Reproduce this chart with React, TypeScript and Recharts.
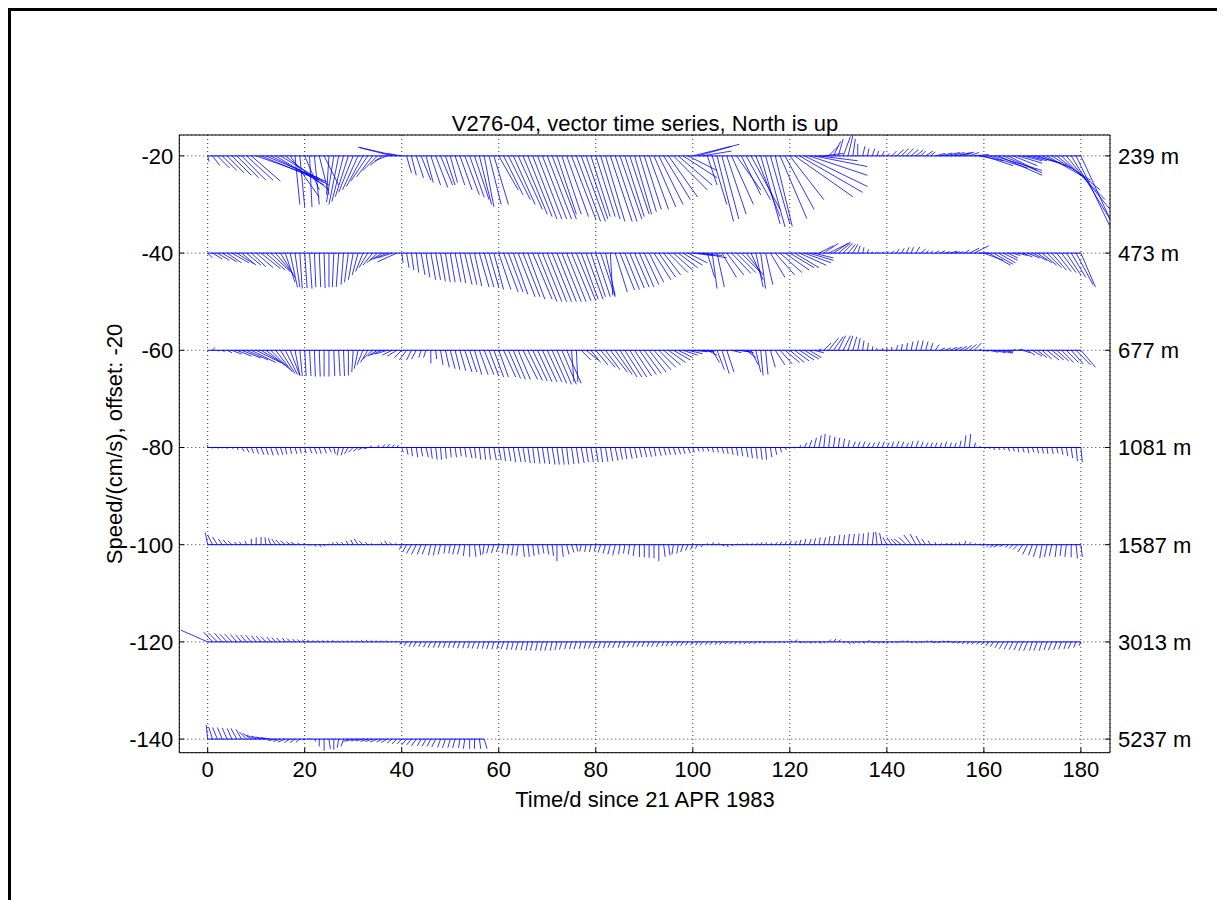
import React from "react";
import { LineChart, Line, XAxis, YAxis, CartesianGrid } from "recharts";

// depth labels and the offset each record is drawn at
const depths = ["239 m", "473 m", "677 m", "1081 m", "1587 m", "3013 m", "5237 m"];
const offsets = [-20, -40, -60, -80, -100, -120, -140];
const xTicks = [0, 20, 40, 60, 80, 100, 120, 140, 160, 180];
const yTicks = [-140, -120, -100, -80, -60, -40, -20];

// daily east (u) / north (v) components, cm/s, from day 0
const u239 = [
  0.3, 1.5, 2.5, 3, 3.5, 4, 4.5, 5, 5.5, 6,
  13, 12, 12.5, 11, 10, 10, 9, 6, 1, 1,
  3, 0.5, 1, 2, 3, -0.5, -1.5, -2, -2.4, -2.7,
  -3, -3.2, -3.4, -3.5, -3.3, -3, -2.5, -2.5, -6.6, -8,
  -3, 1, 1, 1.5, 2, 1.5, 2, 2.5, 2.5, 2,
  1.5, 2, 2.5, 3, 3, 3, 2.5, 2, 2.5, 3,
  4, 4, 4.5, 4.5, 5, 5, 5, 5, 5, 5,
  5, 5, 4, 4, 4.5, 5, 5, 5, 4.5, 4,
  4, 4, 4, 4.5, 4.5, 4.5, 4, 4, 3.5, 3.5,
  3.5, 4, 4.5, 5, 5.5, 6, 7, 7, 7, 6,
  8, 8.6, 6, 2, 3, 3.4, 3.5, 4, 4.5, 5,
  4, 5, 6, 5, 4, 4, 4, 3.5, 5.5, 6,
  7, 12, 13, 13, 12, 11, 8, 4, 2, 1.5,
  1, 1.5, 1, 0.5, 0, 0.5, 0.3, 0.5, 0.3, 0.5,
  0.5, 1, 1.5, 1.5, 1.5, 1.5, 1.5, 1, 1.5, 1,
  2, 2.5, 3, 3, 3, 2.5, 2, 2, 3, 5,
  6, 8, 10, 9, 8, 6, 5, 5, 4, 4,
  6, 6, 6, 7, 8, 9, 9, 9, 8, 7, 6,
];
const v239 = [
  -1.2, -2, -2.5, -3, -3.5, -4, -4.5, -5, -5, -5.2,
  -4.6, -5, -5.3, -5.5, -6, -6, -7, -8.5, -10, -10.5,
  -7, -10.5, -10, -8, -6, -8, -9.5, -10, -9.4, -8.4,
  -7.5, -7, -6.3, -5.2, -4.3, -3, -1.9, -1, 1.7, 1.8,
  0.5, -3.5, -4, -4.5, -5, -5.5, -6, -6.5, -6, -6,
  -5.5, -6, -7, -8, -8.5, -9, -10, -10.5, -10, -10,
  -7, -8, -9, -10, -11, -12, -12.5, -13, -13, -13,
  -13, -13, -12, -12, -12.5, -13, -13.5, -13.5, -13, -12.5,
  -12.5, -13, -13.5, -13.5, -13.5, -13, -12.5, -12, -12, -11.5,
  -11, -11, -10.5, -10, -9, -8.5, -7, -6, -4.5, -3,
  2, 2.4, 1, -6, -10, -13.5, -13, -12, -10, -7,
  -8, -9, -11, -12.5, -14, -14.6, -14, -14.5, -12.9, -11,
  -9, -8.4, -7.5, -6.3, -4, -2.2, -1, 0.5, 2, 3,
  3.5, 4, 4.2, 3.5, 2.5, 2, 1.5, 1.5, 1, 1,
  0.5, 1, 1.3, 1.5, 1.5, 1.3, 1.2, 1, 1, 0.8,
  0.5, 0.6, 0.7, 0.7, 0.6, 0.7, 0.8, 0.7, 0.3, -1,
  -2, -2.5, -3, -4, -3.5, -3, -2, -1.5, -1, -1,
  -1.5, -2, -2.5, -4, -5, -7, -9, -11, -13, -14.5, -13,
];

const u473 = [
  1, 2, 2.5, 3, 3, 3.5, 3.5, 3, 3, 3,
  3.5, 4, 4, 4, 3.5, 3, 2, 1.5, 1, 0.5,
  0.5, 0.5, 0.3, 0.3, 0.2, 0, -0.3, -0.5, -0.5, -0.8,
  -1, -1.2, -1.5, -1.8, -2, -2.2, -2.5, -2.8, -3, -4,
  0.3, 0.5, 0.5, 0.5, 0.8, 0.8, 1, 1, 1, 1,
  1, 1.2, 1.2, 1.5, 1.5, 1.5, 2, 2, 2, 2,
  2.5, 3, 3, 3, 3.5, 3.5, 3.5, 4, 4, 4,
  4, 4, 4, 4, 4, 4, 4, 3.5, 3.5, 3,
  3, 3, 2, 0.5, 2.5, 3, 3, 3, 3, 3,
  3, 3, 3.5, 3.5, 3.5, 4, 4, 4, 4, 4,
  4, 5, 5, 1.5, 1, 1.5, 3, 3.5, 4, 4,
  4, 3.5, 2.5, 1.5, 1, 1.5, 3, 4, 4.5, 5,
  5, 5, 5.5, 5.5, 5, 4, 3, 3, 4.5, 3,
  2.5, 2, 1.5, 1, 0.5, 0.3, 0.2, 0, 0.2, 0.3,
  0.3, 0.5, 0.5, 0.6, 0.6, 0.5, 0.8, 1, 0.6, 0.5,
  0.8, 1, 1, 1.5, 1, 0.8, 1, 2, 3, 2,
  4, 4.5, 4, 3.5, 3, 2, 1.5, 2, 2, 2.5,
  3, 3, 3, 3, 3, 3, 3, 3, 3, 3.5, 3,
];
const v473 = [
  -1, -1.2, -1.5, -1.8, -2, -2, -2.2, -2.5, -2.5, -2.8,
  -3, -3.2, -3.5, -3.8, -4.2, -5, -6, -7, -7, -7.3,
  -7.2, -7.3, -7, -7, -7.2, -7, -7, -7, -6.5, -6,
  -5.5, -4.5, -3.8, -3, -2.5, -2, -1.5, -1.2, -1, -1.8,
  -2, -3, -3.5, -4, -4.5, -5, -5.5, -5.5, -5.8, -6,
  -6, -6, -6.2, -6.5, -6.5, -6.8, -7, -7, -7, -7.5,
  -7.5, -8, -8, -8.5, -9, -9, -9.5, -9.5, -10, -10,
  -10, -10, -10, -10, -10, -9.8, -9.8, -9.5, -9.5, -9,
  -9, -9, -8.7, -8.7, -8, -7.6, -7.5, -7.2, -7, -7,
  -6.5, -6, -5.5, -5, -4.5, -4, -3.5, -3, -2.5, -2,
  -0.5, -0.5, -1, -5, -7.3, -7, -5, -4.5, -4.2, -4,
  -4, -4.5, -5.5, -7, -7.3, -6.5, -5, -4.5, -4, -3.5,
  -3, -3, -2.5, -2, -1.5, -1, 1.5, 2, 2.2, 2,
  2, 2, 1.8, 1.8, 1.5, 1.2, 0.8, 0.3, 0.3, 0.3,
  0.3, 0.5, 0.8, 1, 1.2, 1.2, 1.3, 0.8, 0.5, 0.5,
  0.5, 0.5, 0.3, 0.4, 0.3, 0.3, 0.6, 1, 1.5, 0,
  -1.5, -2.5, -2.3, -2, -1.5, -1, -0.5, -0.5, -0.8, -1,
  -1.5, -2, -2.5, -3, -3.5, -3.8, -4, -4.5, -5, -6.5, -7,
];

const u677 = [
  0, 0.5, 0.3, 0.5, 1, 2, 3, 4, 4.5, 5,
  5, 5, 4.5, 4, 3.5, 3, 2.5, 2, 1, 0.5,
  0.3, 0.3, 0.2, 0.2, 0, 0, 0.2, 0.3, 0.2, 0,
  -0.3, -0.8, -1.2, -1.5, -2, -2, -2.5, -2.5, -2, -2,
  -1.5, -1.5, -1, -1, -0.5, -0.5, 0, 0.2, 0.5, 0.8,
  1, 1, 1.2, 1.5, 1.5, 1.5, 1.8, 2, 2, 2,
  2, 2.5, 2.5, 2.5, 2.5, 3, 3, 3, 3, 3,
  3, 3, 3, 3, 3, 0.5, 0.3, 2, 2.5, 2,
  2.5, 3, 3, 3.5, 3.5, 3.5, 3.5, 3.5, 3.5, 3.5,
  3.5, 3.5, 3.5, 3.5, 3.5, 3.5, 3.5, 3, 3, 3,
  3, 3, 2.5, 2, 1.5, 1.5, 1.5, 1.5, 2, 3,
  2.5, 2, 1.5, 1, 0.5, 0.5, 1, 2, 2.5, 3,
  3, 3, 3, 3, 2.5, 2, 0.5, 1.5, 2, 2,
  1.5, 1.5, 1, 0.8, 0.5, 0.3, 0.2, 0.1, -0.1, 0.2,
  0, 0, 0.2, 0.2, 0.3, 0.4, 0.5, 0.5, 0.5, 0.5,
  0.8, 1, 1.2, 1.5, 1.5, 1.5, 1.5, 1.5, 1.5, 0.5,
  1, 2, 2.5, 3, 2, 1, 0.5, 1, 1.5, 1.5,
  2, 2, 2, 2.5, 2.5, 2.5, 2.5, 2.5, 2.5, 3, 3,
];
const v677 = [
  0, 0.6, -0.2, -0.3, -0.5, -0.8, -1.2, -1.6, -2, -2.5,
  -2.5, -3, -3.5, -4, -4.5, -4.8, -5, -5.2, -5.2, -5.3,
  -5.3, -5.3, -5.4, -5.4, -5.4, -5.4, -5.3, -5.3, -5.3, -5.2,
  -4.5, -3.8, -3, -2.5, -1.8, -1.2, -1, -0.8, -1, -1.2,
  -1.5, -2, -2, -1.8, -1.5, -1.5, -2.7, -1.8, -3, -3.5,
  -3.8, -4, -4.2, -4.5, -4.5, -5, -5, -5, -5.3, -5.5,
  -5.5, -5.5, -5.8, -6, -6, -6, -6.2, -6.3, -6.5, -6.5,
  -6.5, -6.8, -7, -7, -6.8, -6.5, -6.5, -2, -2, -2.5,
  -3, -3.5, -4, -4.5, -5, -5.5, -5.5, -5.5, -5.3, -5,
  -4.8, -4.5, -4, -3.5, -3, -2.5, -2, -1.5, -1, -0.7,
  -0.3, -0.2, -0.3, -1, -2.5, -4, -4.8, -4.5, -0.5, -0.3,
  -0.5, -1.5, -3, -4.5, -5.2, -5, -3.5, -3, -2.8, -2.5,
  -2.5, -2.2, -2, -1.8, -1.5, -0.5, 0.3, 1.5, 2.5, 2.8,
  3, 3, 3, 2.8, 2.5, 2, 1.5, 0.8, 0.5, 0.5,
  0.5, 0.7, 1, 1.3, 1.5, 1.8, 2, 2, 1.8, 1.5,
  1.2, 0.5, 0.5, 0.6, 0.7, 0.8, 1, 1.2, 1.5, 0.2,
  -0.2, -0.4, -0.5, -0.6, -0.4, -0.2, 0.2, 0.2, -0.5, -1,
  -1.2, -1.5, -1.8, -2, -2, -2.2, -2.5, -2.5, -2.8, -3, -3.5,
];

const u1081 = [
  0, 0, 0.3, 0, 0, 0.3, 0.3, 0.5, 0.5, 0.5,
  0.5, 0.6, 0.5, 0.5, 0.6, 0.5, 0.3, 0.3, 0.4, 0.3,
  0.3, 0.5, 0.5, 0.4, 0.5, 0.5, 0.3, -0.3, -0.5, -0.8,
  -1, -1, -1, -0.8, -0.5, 0.3, 0.5, 0.5, 0.5, 0.3,
  0.3, 0.3, 0.2, 0.3, 0.3, 0.5, 0.3, 0.3, 0.2, 0.2,
  0.2, 0.3, 0.3, 0.3, 0.5, 0.3, 0.3, 0.3, 0.3, 0.5,
  0.5, 0.4, 0.5, 0.5, 0.6, 0.5, 0.5, 0.4, 0.5, 0.5,
  0.5, 0.6, 0.5, 0.5, 0.4, 0.5, 0.5, 0.6, 0.5, 0.5,
  0.5, 0.4, 0.5, 0.5, 0.6, 0.5, 0.4, 0.5, 0.5, 0.5,
  0.5, 0.5, 0.4, 0.5, 0.5, 0.4, 0.5, 0.5, 0.4, 0.5,
  0.3, 0.3, 0.2, 0.3, 0.3, 0.3, 0.4, 0.3, 0.3, 0.3,
  0.3, 0.4, 0.3, 0.3, 0.3, 0.2, 0.3, 0.3, 0.3, 0.3,
  0, 0, 0.3, 0.5, 0.5, 0.5, 0.5, 0.3, 0.3, 0.3,
  0.3, 0.3, 0.3, 0.5, 0.5, 0.5, 0.5, 0.5, 0.5, 0.5,
  0.5, 0.4, 0.5, 0.5, 0.5, 0.4, 0.5, 0.5, 0.5, 0.4,
  0.3, 0.3, 0.3, 0.3, 0.3, 0.3, 0.3, 0.3, 0.3, 0.3,
  0.3, 0.3, 0.2, 0.3, 0.3, 0.3, 0.3, 0.2, 0.3, 0.3,
  0.3, 0.3, 0.3, 0.2, 0.3, 0.3, 0.3, 0.3, 0.3, 0.3, 0.3,
];
const v1081 = [
  0.5, -0.2, -0.2, -0.2, -0.3, -0.3, -0.5, -0.8, -1, -1.2,
  -1.3, -1.5, -1.5, -1.6, -1.6, -1.5, -1.4, -1.3, -1.3, -1.2,
  -1.2, -1.2, -1.3, -1.3, -1.2, -1, -1.3, -1.6, -1.6, -1.3,
  -1, -0.8, -0.5, -0.3, 0.3, 0.5, 0.6, 0.7, 0.6, 0.5,
  -1, -1.5, -1.8, -2, -1.8, -2, -2.3, -2.5, -2.5, -2.3,
  -2, -2, -1.8, -2, -2.2, -2.2, -2.5, -2.5, -2.5, -2.6,
  -2.6, -2.8, -2.8, -3, -3, -3, -3.2, -3.2, -3.3, -3.3,
  -3.4, -3.5, -3.5, -3.5, -3.5, -3.4, -3.3, -3.2, -3, -3,
  -3, -3, -2.9, -2.8, -2.7, -2.5, -2.4, -2.3, -2.2, -2,
  -2, -1.9, -1.8, -1.7, -1.6, -1.5, -1.5, -1.4, -1.3, -1.2,
  -1, -0.8, -0.8, -0.8, -1, -1, -1.2, -1.3, -1.5, -1.7,
  -1.8, -2, -2.2, -2.3, -2.5, -2.5, -2, -1.5, -1, -0.5,
  -0.3, -0.2, 0.5, 1, 1.5, 2, 2.5, 2.8, 2.5, 2.2,
  2, 1.8, 1.5, 1.2, 1.2, 1.2, 1, 1, 1.2, 1.2,
  1, 1.2, 1.3, 1.2, 1, 1.3, 1.4, 1.2, 1, 1,
  1, 1, 1.2, 1, 1, 1.4, 2.5, 2.8, 1, 0.3,
  -0.3, -0.3, -0.5, -0.5, -0.5, -0.8, -0.8, -1, -1, -1.2,
  -1, -1.2, -1.2, -1.3, -1.3, -1.2, -1.5, -1.8, -2.2, -2.8, -3,
];

const u1587 = [
  -0.5, -1, -1, -0.8, -0.8, -0.8, -0.5, -0.5, -0.3, 0,
  0, 0, -0.2, -0.5, -0.8, -1, -1, -0.8, -0.8, -0.5,
  -0.3, 0, 0.3, 0.5, 0.2, 0, -0.3, -0.5, -0.5, -0.5,
  -0.5, -0.8, -0.8, -0.5, -0.3, 0, -0.3, -0.5, -0.5, -0.3,
  -0.5, -0.8, -1, -1, -0.8, -0.8, -0.5, -0.5, -0.5, -0.3,
  -0.3, -0.5, -0.5, -0.3, 0, 0.3, 0.3, -0.3, -0.5, -0.5,
  -0.5, -0.3, -0.3, -0.3, -0.3, 0.3, 0.3, 0.3, 0.3, 0.3,
  0.3, 0.3, 0, 0.3, 0.5, 0.5, 0.3, -0.3, -0.3, -0.3,
  -0.3, -0.5, -0.5, -0.5, -0.5, -0.3, -0.3, -0.3, -0.3, 0,
  0, 0, 0, 0, 0.3, 0.3, -0.3, -0.3, -0.5, -0.5,
  -0.5, -0.5, -0.3, 0, 0.3, 0.5, 0.5, 0.3, 0.3, 0.3,
  0.3, 0.2, 0.3, 0.4, 0.3, 0.2, 0.3, 0.4, 0.3, 0.3,
  0.3, 0.4, 0.3, 0.3, 0.4, 0.3, 0.3, 0.4, 0.3, 0.3,
  0.3, 0.3, 0.3, 0.3, 0.3, 0.2, 0.2, 0.3, -0.3, -0.5,
  -0.8, -1, -1.2, -1.5, -1.5, -1.5, -1.2, -1, -0.8, -0.5,
  0, 0.3, 0.5, 0.5, 0.3, 0, 0.3, 0.3, 0.3, 0.3,
  -0.3, -0.5, -0.8, -1, -0.8, -0.5, -0.8, -1, -1, -1,
  -0.8, -0.8, -0.5, -0.5, -0.5, -0.3, -0.3, -0.3, 0, 0.3, 0.3,
];
const v1587 = [
  2.5, 2, 1.6, 1.2, 1, 0.8, 0.6, 0.6, 0.8, 1.2,
  1.5, 1.6, 1.5, 1.3, 1.2, 1, 0.8, 0.6, 0.5, 0.4,
  0.2, -0.2, -0.4, -0.5, -0.3, 0.2, 0.5, 0.6, 0.5, 0.8,
  1, 1.2, 0.8, 0.5, 0.3, 0.2, 0.5, 0.8, 0.5, 0.3,
  -1, -1.5, -1.8, -2, -2, -2, -2.2, -2.2, -2, -1.8,
  -1.8, -2, -2, -2.3, -2.5, -2.5, -2.2, -2, -1.8, -1.7,
  -1.5, -1.8, -2, -2.2, -2.3, -2.5, -2.5, -2.3, -2, -1.8,
  -2, -2.3, -3.4, -2.5, -2, -1.6, -1.4, -1.4, -1.5, -1.5,
  -1.4, -1.6, -1.8, -2, -2.2, -2, -1.8, -2, -2.3, -2.5,
  -2.6, -2.7, -2.8, -3.4, -2.5, -2.2, -2, -1.8, -1.5, -1.2,
  -1, -0.8, -0.5, 0.3, 0.5, 0.3, -0.3, -0.5, -0.3, 0.2,
  0.2, 0.3, 0.3, 0.4, 0.5, 0.5, 0.4, 0.5, 0.6, 0.7,
  0.8, 0.8, 1, 1.2, 1.2, 1.3, 1.5, 1.5, 1.8, 1.8,
  2, 2, 2.2, 2.2, 2.3, 2.3, 2.5, 2.6, 2.6, 2.4,
  1.5, 1.5, 1.2, 1.2, 1.5, 2, 2.2, 1.8, 1.2, 0.8,
  0.5, 0.3, 0.3, 0.3, 0.3, 0.5, 0.8, 0.5, 0.3, 0.2,
  -0.3, -0.5, -0.6, -0.5, -0.4, -0.6, -0.8, -1, -1.5, -2,
  -2.2, -2.5, -2.8, -2.5, -2.3, -2.5, -2.3, -2.5, -2.6, -2.8, -2.5,
];

const u3013 = [
  -5.5, -1.8, -1.8, -1.6, -1.5, -1.5, -1.3, -1.3, -1.2, -1.2,
  -1, -1, -1, -0.8, -0.8, -0.8, -0.6, -0.6, -0.5, -0.5,
  -0.5, -0.5, -0.4, -0.4, -0.4, -0.3, -0.3, -0.3, -0.3, -0.3,
  -0.3, -0.3, -0.4, -0.4, -0.4, -0.3, -0.3, -0.2, -0.2, -0.2,
  -0.4, -0.5, -0.5, -0.6, -0.5, -0.5, -0.6, -0.5, -0.5, -0.4,
  -0.4, -0.4, -0.5, -0.4, -0.4, -0.5, -0.4, -0.4, -0.5, -0.4,
  -0.4, -0.5, -0.4, -0.4, -0.5, -0.4, -0.4, -0.5, -0.4, -0.4,
  -0.5, -0.4, -0.4, -0.5, -0.4, -0.4, -0.5, -0.4, -0.4, -0.5,
  -0.5, -0.5, -0.4, -0.5, -0.5, -0.4, -0.5, -0.5, -0.4, -0.5,
  -0.5, -0.4, -0.5, -0.5, -0.4, -0.5, -0.5, -0.4, -0.5, -0.5,
  -0.5, -0.4, -0.5, -0.4, -0.5, -0.4, -0.5, -0.4, -0.5, -0.4,
  -0.4, -0.5, -0.4, -0.4, -0.3, -0.4, -0.3, -0.3, -0.3, -0.2,
  0.3, 0.5, 0.5, 0.3, 0.5, 0.3, 0.5, 0.3, 0.5, 0.5,
  0.5, 0.3, 0.5, 0.3, 0.3, 0.5, 0.5, 0.5, 0.5, 0.5,
  0.3, 0.3, 0.3, 0.3, 0.3, 0.3, 0.3, 0.3, 0.3, 0.3,
  -0.5, -0.5, -0.5, -0.5, -0.5, -0.5, -0.5, -0.5, -0.5, -0.5,
  -0.6, -0.6, -0.7, -0.7, -0.8, -0.8, -0.8, -0.8, -0.8, -0.8,
  -0.6, -0.7, -0.6, -0.6, -0.7, -0.6, -0.6, -0.5, -0.6, -0.5, -0.4,
];
const v3013 = [
  2.4, 2, 1.8, 1.8, 1.6, 1.6, 1.5, 1.5, 1.4, 1.4,
  1.3, 1.2, 1.1, 1, 0.9, 0.8, 0.8, 0.7, 0.6, 0.5,
  0.4, 0.4, 0.3, 0.3, 0.3, 0.3, 0.4, 0.3, 0.3, 0.3,
  0.3, 0.3, 0.4, 0.4, 0.3, 0.3, 0.3, 0.3, 0.2, 0.2,
  -0.6, -0.8, -1, -1, -1, -1.1, -1.2, -1.2, -1.2, -1.2,
  -1.2, -1.2, -1.3, -1.3, -1.3, -1.4, -1.4, -1.4, -1.5, -1.5,
  -1.5, -1.5, -1.6, -1.6, -1.7, -1.7, -1.8, -1.8, -1.8, -1.8,
  -1.8, -1.8, -1.7, -1.6, -1.5, -1.5, -1.5, -1.4, -1.4, -1.4,
  -1.4, -1.3, -1.3, -1.2, -1.2, -1.2, -1.2, -1.1, -1.1, -1,
  -1, -1, -1, -1, -0.9, -0.9, -0.8, -0.8, -0.8, -0.7,
  -0.7, -0.7, -0.7, -0.6, -0.6, -0.6, -0.6, -0.5, -0.5, -0.5,
  -0.5, -0.5, -0.4, -0.4, -0.3, -0.3, -0.3, -0.3, -0.2, -0.2,
  0.3, 0.5, -0.2, -0.3, -0.3, -0.2, -0.3, -0.3, 0.5, 0.6,
  0.5, -0.3, -0.5, -0.4, -0.3, -0.3, 0.3, -0.2, -0.3, -0.2,
  -0.2, -0.2, -0.3, 0.3, 0.3, -0.3, -0.3, -0.2, 0.3, 0.3,
  -0.2, -0.2, 0.2, 0.2, -0.2, -0.3, -0.4, -0.5, -0.5, -0.5,
  -0.6, -0.8, -1, -1.2, -1.4, -1.5, -1.6, -1.7, -1.8, -1.8,
  -1.8, -1.8, -1.8, -1.7, -1.7, -1.6, -1.5, -1.5, -1.4, -1.2, -0.8,
];

const u5237 = [
  -0.3, -0.8, -1, -1, -1, -1, -1.2, -1.2, -1.5, -1.8,
  -2, -2, -2, -2, -1.5, -1.5, -1.5, -1.2, -1, -0.8,
  -0.3, 0, 0.3, 0, 0, 0.3, 0, -0.3, -0.5, -1,
  -1.5, -1.5, -1.5, -1.5, -1.5, -1.5, -1.2, -1.2, -1, -1,
  -1, -1, -1, -1, -0.8, -0.8, -0.8, -0.8, -0.6, -0.6,
  -0.5, -0.5, -0.3, -0.3, 0, 0, 0.3, 0.6,
];
const v5237 = [
  2.9, 2.5, 2.4, 2.4, 2.3, 2.2, 2.2, 2, 1.5, 1.2,
  0.8, 0.6, 0.4, 0.3, -0.3, -0.5, -0.6, -0.7, -0.7, -0.6,
  -0.2, 0.2, -0.5, -1.5, -2.4, -2, -2.2, -1.8, -1.5, -0.5,
  -0.4, -0.4, -0.4, -0.5, -0.5, -0.6, -0.6, -0.7, -0.8, -1,
  -1, -1.2, -1.2, -1.4, -1.4, -1.5, -1.5, -1.6, -1.7, -1.8,
  -1.8, -1.8, -1.8, -2, -2, -2, -2, -2,
];

const uSeries = [u239, u473, u677, u1081, u1587, u3013, u5237];
const vSeries = [v239, v473, v677, v1081, v1587, v3013, v5237];

const STICK = "#0000ff";
const FS = 22;

// each stick: origin on the offset line, tip at (t+u, off+v), then a gap
function sticks(u: number[], v: number[], off: number) {
  const pts: { x: number; y: number | null }[] = [];
  u.forEach((du, t) => {
    pts.push({ x: t, y: off });
    pts.push({ x: t + du, y: off + v[t] });
    pts.push({ x: t + du, y: null });
  });
  return pts;
}

function baseline(u: number[], off: number) {
  return [
    { x: 0, y: off },
    { x: u.length - 1, y: off },
  ];
}

const depthLabel = (val: number) => depths[offsets.indexOf(val)] ?? "";

export default function App() {
  const font = "'Liberation Sans', Arial, sans-serif";
  return (
    <div style={{ position: "relative", width: 1217, height: 892, fontFamily: font, color: "#000" }}>
      <div
        style={{
          position: "absolute",
          left: 0,
          top: 0,
          width: 1217,
          height: 892,
          borderTop: "3px solid #000",
          borderLeft: "3px solid #000",
          boxSizing: "border-box",
        }}
      />
      <div style={{ position: "absolute", left: 337, top: 105, width: 600, textAlign: "center", fontSize: FS, lineHeight: "22px" }}>
        V276-04, vector time series, North is up
      </div>
      <div style={{ position: "absolute", left: 337, top: 781, width: 600, textAlign: "center", fontSize: FS, lineHeight: "22px" }}>
        Time/d since 21 APR 1983
      </div>
      <div
        style={{
          position: "absolute",
          left: -93,
          top: 423,
          width: 400,
          height: 26,
          textAlign: "center",
          fontSize: FS,
          lineHeight: "26px",
          transform: "rotate(-90deg)",
        }}
      >
        Speed/(cm/s), offset: -20
      </div>
      <div style={{ position: "absolute", left: 0, top: 0 }}>
        <LineChart width={1217} height={892} margin={{ top: 126, right: 35, bottom: 117.3, left: 111.3 }}>
          <CartesianGrid stroke="#333" strokeDasharray="1 3" />
          <XAxis
            dataKey="x"
            type="number"
            domain={[-5.85, 186]}
            ticks={xTicks}
            allowDataOverflow
            height={30}
            tickSize={-5}
            tickMargin={14}
            axisLine={{ stroke: "#000" }}
            tickLine={{ stroke: "#000" }}
            tick={{ fill: "#000", fontSize: FS }}
          />
          <XAxis
            xAxisId="top"
            orientation="top"
            dataKey="x"
            type="number"
            domain={[-5.85, 186]}
            ticks={xTicks}
            allowDataOverflow
            height={1}
            tickSize={-5}
            tick={false}
            axisLine={{ stroke: "#000" }}
            tickLine={{ stroke: "#000" }}
          />
          <YAxis
            type="number"
            domain={[-142.8, -15.7]}
            ticks={yTicks}
            allowDataOverflow
            width={60}
            tickSize={-5}
            tickMargin={11}
            axisLine={{ stroke: "#000" }}
            tickLine={{ stroke: "#000" }}
            tick={{ fill: "#000", fontSize: FS }}
          />
          <YAxis
            yAxisId="right"
            orientation="right"
            type="number"
            domain={[-142.8, -15.7]}
            ticks={yTicks}
            allowDataOverflow
            width={80}
            tickSize={-5}
            tickMargin={13}
            tickFormatter={depthLabel}
            axisLine={{ stroke: "#000" }}
            tickLine={{ stroke: "#000" }}
            tick={{ fill: "#000", fontSize: FS, textAnchor: "start" }}
          />
          {offsets.map((off, i) => (
            <Line
              key={"b" + i}
              data={baseline(uSeries[i], off)}
              dataKey="y"
              stroke={STICK}
              strokeWidth={1}
              dot={false}
              activeDot={false}
              isAnimationActive={false}
            />
          ))}
          {offsets.map((off, i) => (
            <Line
              key={"s" + i}
              data={sticks(uSeries[i], vSeries[i], off)}
              dataKey="y"
              stroke={STICK}
              strokeWidth={0.8}
              dot={false}
              activeDot={false}
              connectNulls={false}
              isAnimationActive={false}
            />
          ))}
        </LineChart>
      </div>
    </div>
  );
}
